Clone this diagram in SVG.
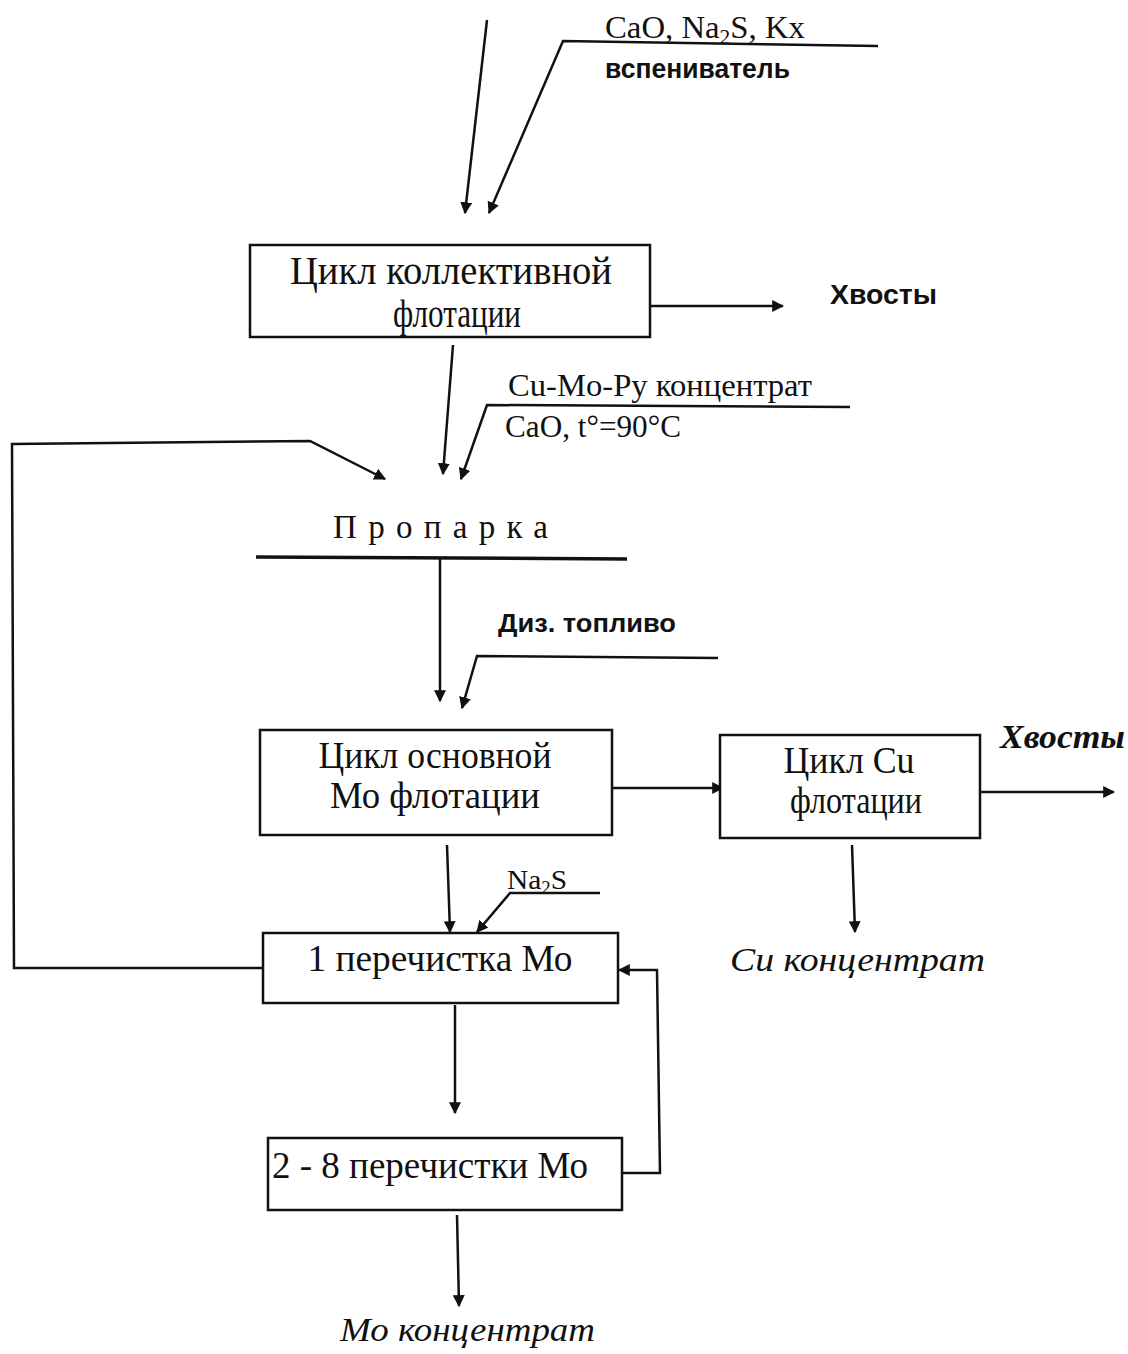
<svg xmlns="http://www.w3.org/2000/svg" width="1128" height="1354" viewBox="0 0 1128 1354">
<defs>
<marker id="ah" viewBox="0 0 10 10" refX="9" refY="5" markerWidth="12" markerHeight="12" markerUnits="userSpaceOnUse" orient="auto">
<path d="M0,0 L10,5 L0,10 z" fill="#111"/>
</marker>
</defs>
<style>
.ln{stroke:#111;stroke-width:2.5;fill:none}
.ar{stroke:#111;stroke-width:2.5;fill:none;marker-end:url(#ah)}
.box{stroke:#111;stroke-width:2.5;fill:#fff}
.t{font-family:"Liberation Serif","Times New Roman",serif;fill:#111}
.s{font-family:"Liberation Sans",Arial,sans-serif;font-weight:bold;fill:#111}
.i{font-family:"Liberation Serif","Times New Roman",serif;font-style:italic;fill:#111}
</style>
<rect width="1128" height="1354" fill="#fff"/>
<g id="connectors">
<line class="ar" x1="487" y1="20" x2="465" y2="213"/>
<polyline class="ar" points="878,46 563,41 489,213"/>
<line class="ar" x1="650" y1="306" x2="783" y2="306"/>
<line class="ar" x1="453" y1="345" x2="443" y2="474"/>
<polyline class="ar" points="850,407 487,405 461,479"/>
<polyline class="ar" points="263,968 14,968 12,444 310,441 385,479"/>
<line class="ln" x1="256" y1="557" x2="627" y2="559" style="stroke-width:3.5"/>
<line class="ar" x1="440" y1="559" x2="440" y2="701"/>
<polyline class="ar" points="718,658 477,656 462,708"/>
<line class="ar" x1="612" y1="788" x2="723" y2="788"/>
<line class="ar" x1="980" y1="792" x2="1114" y2="792"/>
<line class="ar" x1="852" y1="845" x2="855" y2="932"/>
<line class="ar" x1="447" y1="845" x2="450" y2="932"/>
<polyline class="ar" points="600,893 510,893 477,932"/>
<polyline class="ar" points="622,1173 660,1173 657,970 619,970"/>
<line class="ar" x1="455" y1="1005" x2="455" y2="1113"/>
<line class="ar" x1="457" y1="1215" x2="459" y2="1306"/>
</g>
<g id="reagents1">
<text class="t" x="605" y="38" font-size="32" textLength="200" lengthAdjust="spacingAndGlyphs">CaO, Na<tspan font-size="21" dy="6">2</tspan><tspan dy="-6">S, Kx</tspan></text>
<text class="s" x="605" y="78" font-size="27" textLength="185" lengthAdjust="spacingAndGlyphs">вспениватель</text>
</g>
<g id="node-collective">
<rect class="box" x="250" y="245" width="400" height="92"/>
<text class="t" x="451" y="284" font-size="40" text-anchor="middle" textLength="322" lengthAdjust="spacingAndGlyphs">Цикл  коллективной</text>
<text class="t" x="457" y="327" font-size="40" text-anchor="middle" textLength="128" lengthAdjust="spacingAndGlyphs">флотации</text>
</g>
<g id="tails1"><text class="s" x="830" y="304" font-size="27" textLength="107" lengthAdjust="spacingAndGlyphs">Хвосты</text></g>
<g id="reagents2">
<text class="t" x="508" y="396" font-size="31" textLength="304" lengthAdjust="spacingAndGlyphs">Cu-Mo-Py концентрат</text>
<text class="t" x="505" y="437" font-size="31" textLength="176" lengthAdjust="spacingAndGlyphs">CaO, t°=90°C</text>
</g>
<g id="node-steaming">
<text class="t" x="333" y="538" font-size="33" textLength="215" lengthAdjust="spacing">Пропарка</text>
</g>
<g id="reagents3"><text class="s" x="498" y="632" font-size="26" textLength="178" lengthAdjust="spacingAndGlyphs">Диз. топливо</text></g>
<g id="node-mo-main">
<rect class="box" x="260" y="730" width="352" height="105"/>
<text class="t" x="435" y="768" font-size="37" text-anchor="middle" textLength="233" lengthAdjust="spacingAndGlyphs">Цикл основной</text>
<text class="t" x="435" y="808" font-size="37" text-anchor="middle" textLength="210" lengthAdjust="spacingAndGlyphs">Мо флотации</text>
</g>
<g id="node-cu">
<rect class="box" x="720" y="735" width="260" height="103"/>
<text class="t" x="849" y="773" font-size="37" text-anchor="middle" textLength="131" lengthAdjust="spacingAndGlyphs">Цикл Cu</text>
<text class="t" x="856" y="813" font-size="37" text-anchor="middle" textLength="132" lengthAdjust="spacingAndGlyphs">флотации</text>
</g>
<g id="tails2"><text class="i" x="1000" y="748" font-size="34" font-weight="bold" textLength="125" lengthAdjust="spacingAndGlyphs">Хвосты</text></g>
<g id="cu-conc"><text class="i" x="730" y="971" font-size="34" textLength="255" lengthAdjust="spacingAndGlyphs">Cu  концентрат</text></g>
<g id="reagents4"><text class="t" x="507" y="889" font-size="28" textLength="60" lengthAdjust="spacingAndGlyphs">Na<tspan font-size="18" dy="5">2</tspan><tspan dy="-5">S</tspan></text></g>
<g id="node-clean1">
<rect class="box" x="263" y="933" width="355" height="70"/>
<text class="t" x="440" y="971" font-size="37" text-anchor="middle" textLength="265" lengthAdjust="spacingAndGlyphs">1 перечистка Мо</text>
</g>
<g id="node-clean2-8">
<rect class="box" x="268" y="1138" width="354" height="72"/>
<text class="t" x="272" y="1178" font-size="37" textLength="316" lengthAdjust="spacingAndGlyphs">2 - 8 перечистки Мо</text>
</g>
<g id="mo-conc"><text class="i" x="340" y="1341" font-size="34" textLength="255" lengthAdjust="spacingAndGlyphs">Мо концентрат</text></g>
</svg>
